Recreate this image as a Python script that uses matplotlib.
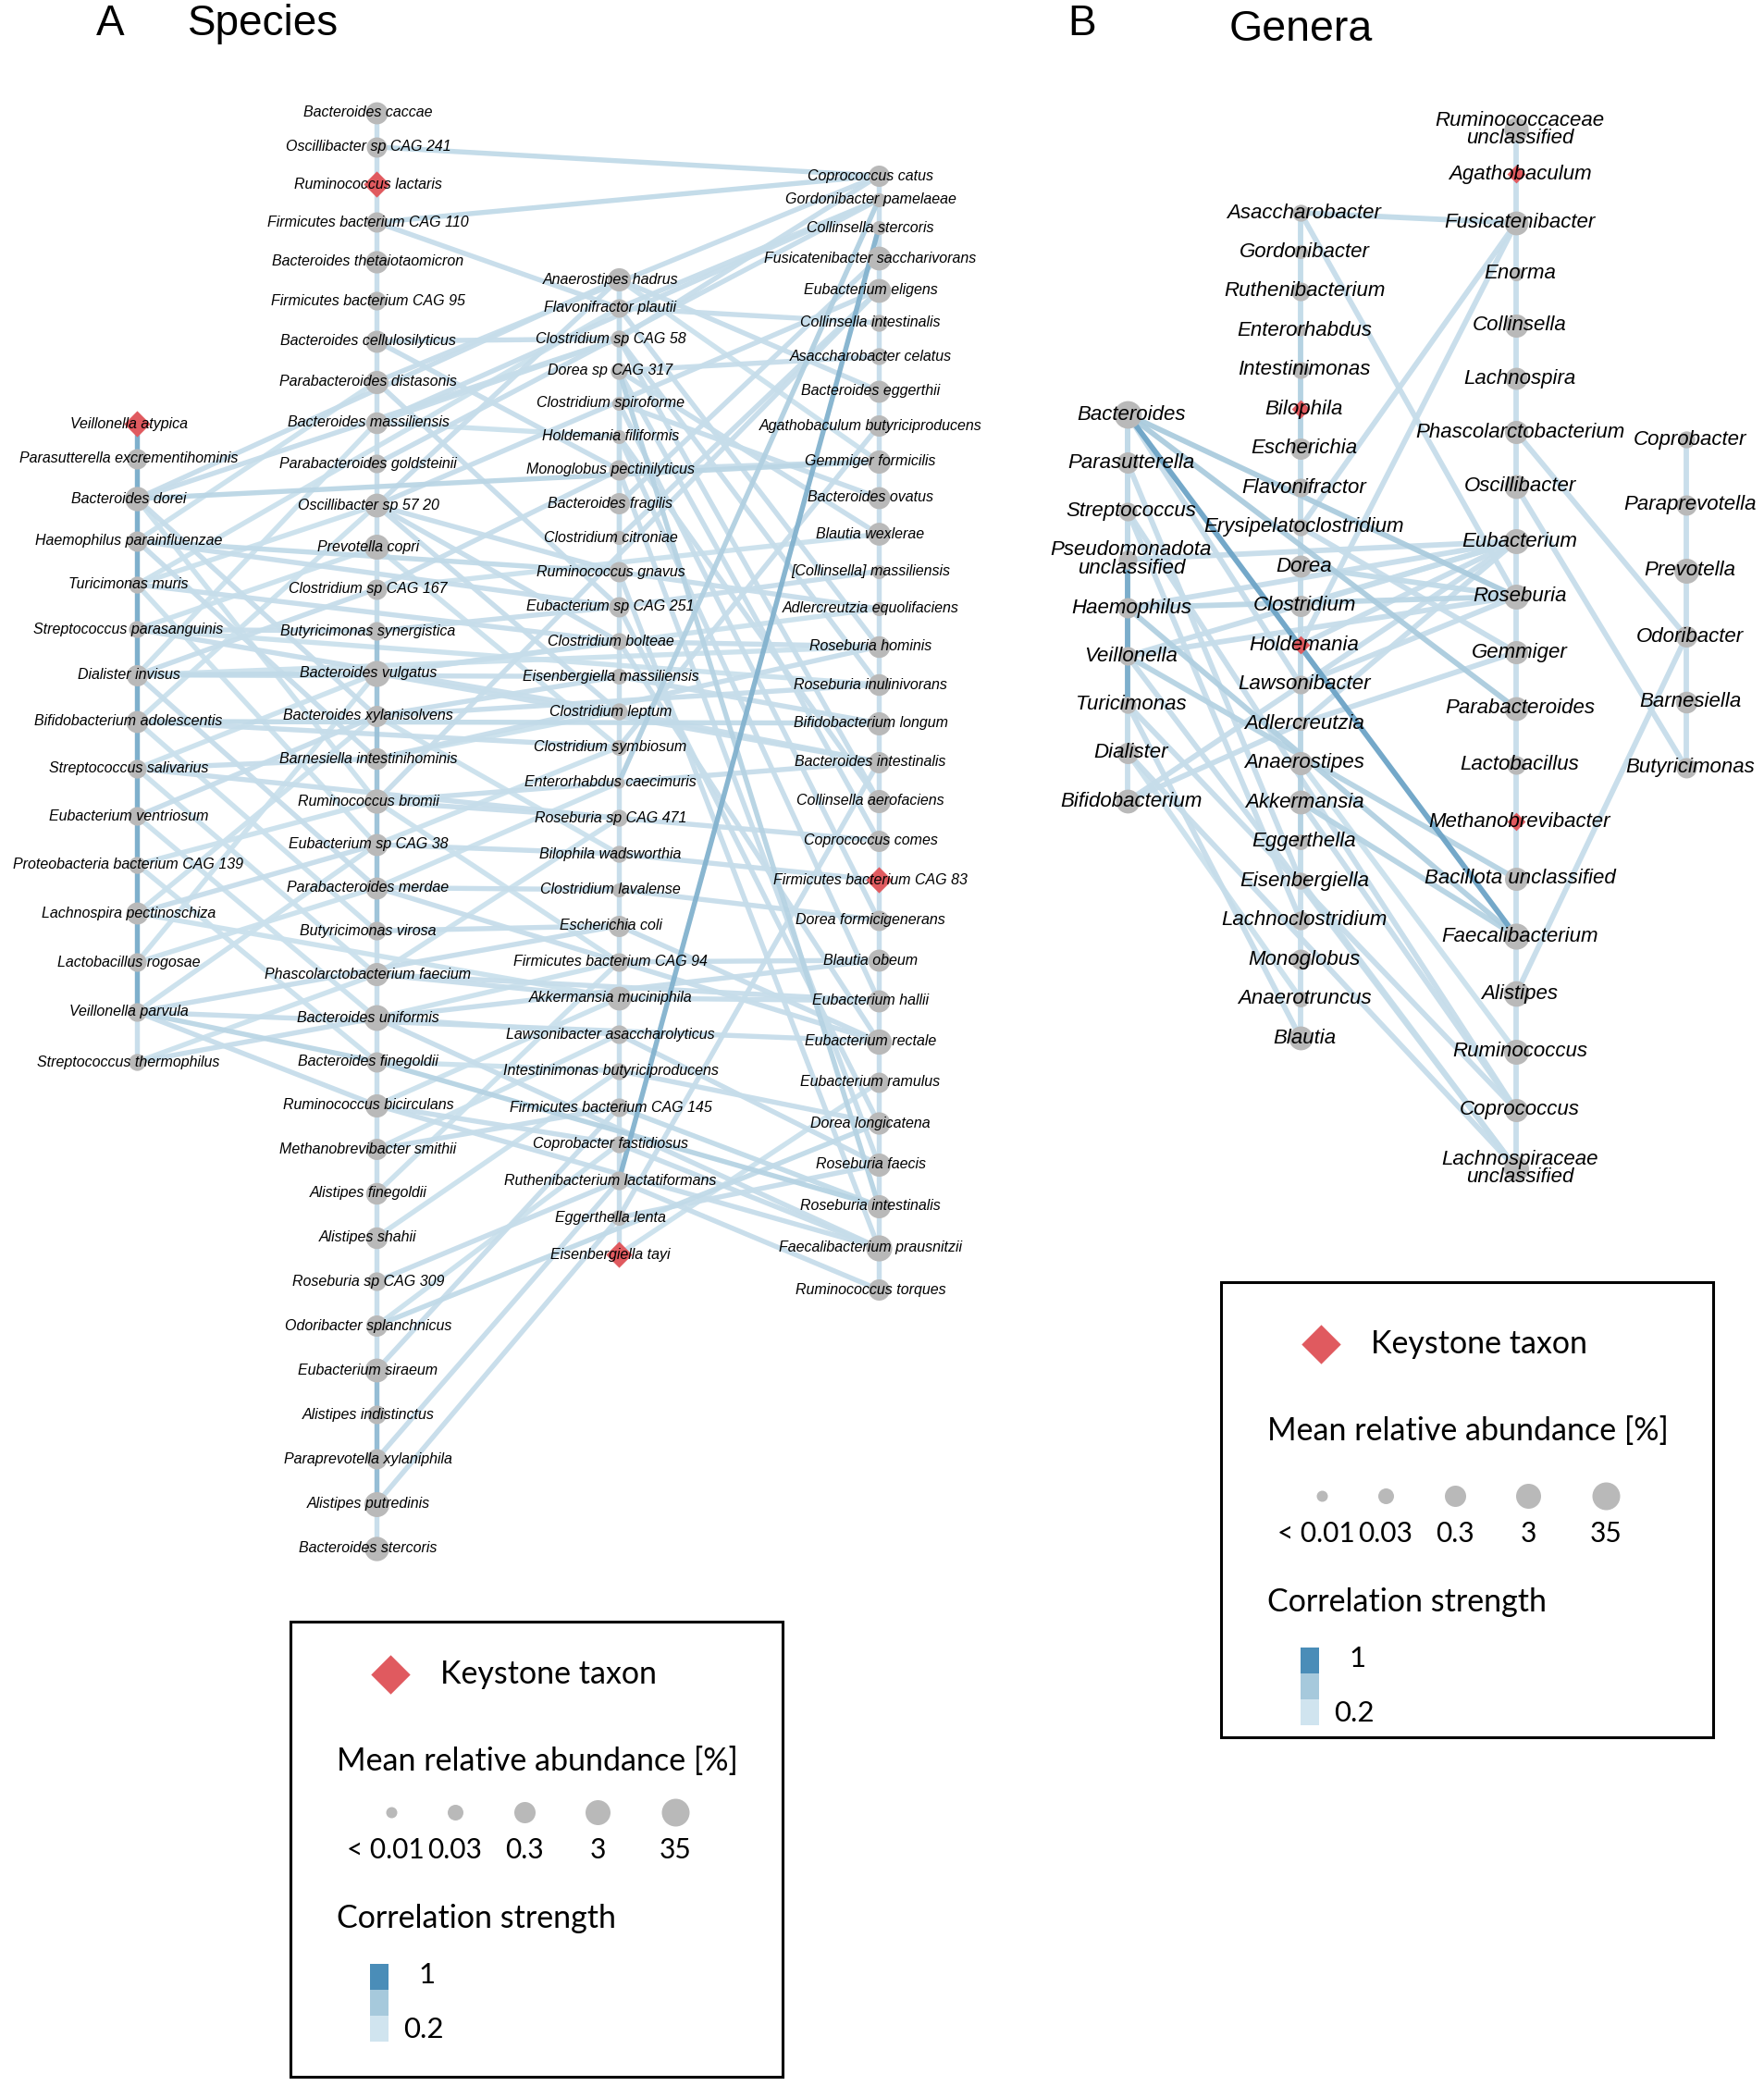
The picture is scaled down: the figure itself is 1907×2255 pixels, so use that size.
import numpy as np
import matplotlib
matplotlib.use("Agg")
import matplotlib.pyplot as plt
from matplotlib.colors import LinearSegmentedColormap
from matplotlib.patches import Rectangle

plt.rcParams['font.family'] = ['Liberation Sans', 'DejaVu Sans']

# ---------------- data: species network ----------------
sp_col1 = ["Veillonella atypica", "Parasutterella excrementihominis", "Bacteroides dorei",
           "Haemophilus parainfluenzae", "Turicimonas muris", "Streptococcus parasanguinis",
           "Dialister invisus", "Bifidobacterium adolescentis", "Streptococcus salivarius",
           "Eubacterium ventriosum", "Proteobacteria bacterium CAG 139", "Lachnospira pectinoschiza",
           "Lactobacillus rogosae", "Veillonella parvula", "Streptococcus thermophilus"]
sp_col1_abund = [0.05, 0.2, 2, 0.2, 0.05, 0.05, 0.3, 0.5, 0.1, 0.1, 0.05, 0.5, 0.1, 0.1, 0.05]

sp_col2 = ["Bacteroides caccae", "Oscillibacter sp CAG 241", "Ruminococcus lactaris",
           "Firmicutes bacterium CAG 110", "Bacteroides thetaiotaomicron", "Firmicutes bacterium CAG 95",
           "Bacteroides cellulosilyticus", "Parabacteroides distasonis", "Bacteroides massiliensis",
           "Parabacteroides goldsteinii", "Oscillibacter sp 57 20", "Prevotella copri",
           "Clostridium sp CAG 167", "Butyricimonas synergistica", "Bacteroides vulgatus",
           "Bacteroides xylanisolvens", "Barnesiella intestinihominis", "Ruminococcus bromii",
           "Eubacterium sp CAG 38", "Parabacteroides merdae", "Butyricimonas virosa",
           "Phascolarctobacterium faecium", "Bacteroides uniformis", "Bacteroides finegoldii",
           "Ruminococcus bicirculans", "Methanobrevibacter smithii", "Alistipes finegoldii",
           "Alistipes shahii", "Roseburia sp CAG 309", "Odoribacter splanchnicus",
           "Eubacterium siraeum", "Alistipes indistinctus", "Paraprevotella xylaniphila",
           "Alistipes putredinis", "Bacteroides stercoris"]
sp_col2_abund = [0.5, 0.2, 0.3, 0.2, 0.6, 0.1, 0.5, 1.0, 0.4, 0.1, 1.5, 3, 0.2, 0.1, 8,
                 0.3, 0.4, 2, 0.5, 0.5, 0.1, 1, 6, 0.2, 1, 0.3, 0.4, 0.4, 0.1, 0.3,
                 1.5, 0.1, 0.2, 3, 2]

sp_col3 = ["Anaerostipes hadrus", "Flavonifractor plautii", "Clostridium sp CAG 58",
           "Dorea sp CAG 317", "Clostridium spiroforme", "Holdemania filiformis",
           "Monoglobus pectinilyticus", "Bacteroides fragilis", "Clostridium citroniae",
           "Ruminococcus gnavus", "Eubacterium sp CAG 251", "Clostridium bolteae",
           "Eisenbergiella massiliensis", "Clostridium leptum", "Clostridium symbiosum",
           "Enterorhabdus caecimuris", "Roseburia sp CAG 471", "Bilophila wadsworthia",
           "Clostridium lavalense", "Escherichia coli", "Firmicutes bacterium CAG 94",
           "Akkermansia muciniphila", "Lawsonibacter asaccharolyticus",
           "Intestinimonas butyriciproducens", "Firmicutes bacterium CAG 145",
           "Coprobacter fastidiosus", "Ruthenibacterium lactatiformans", "Eggerthella lenta",
           "Eisenbergiella tayi"]
sp_col3_abund = [1, 0.1, 0.05, 0.05, 0.02, 0.02, 0.2, 0.3, 0.02, 0.2, 0.2, 0.05, 0.03, 0.05,
                 0.03, 0.01, 0.05, 0.05, 0.02, 0.3, 0.1, 1.5, 0.1, 0.05, 0.1, 0.05, 0.1,
                 0.03, 0.02]

sp_col4 = ["Coprococcus catus", "Gordonibacter pamelaeae", "Collinsella stercoris",
           "Fusicatenibacter saccharivorans", "Eubacterium eligens", "Collinsella intestinalis",
           "Asaccharobacter celatus", "Bacteroides eggerthii", "Agathobaculum butyriciproducens",
           "Gemmiger formicilis", "Bacteroides ovatus", "Blautia wexlerae",
           "[Collinsella] massiliensis", "Adlercreutzia equolifaciens", "Roseburia hominis",
           "Roseburia inulinivorans", "Bifidobacterium longum", "Bacteroides intestinalis",
           "Collinsella aerofaciens", "Coprococcus comes", "Firmicutes bacterium CAG 83",
           "Dorea formicigenerans", "Blautia obeum", "Eubacterium hallii", "Eubacterium rectale",
           "Eubacterium ramulus", "Dorea longicatena", "Roseburia faecis",
           "Roseburia intestinalis", "Faecalibacterium prausnitzii", "Ruminococcus torques"]
sp_col4_abund = [0.3, 0.02, 0.02, 1.5, 1.5, 0.05, 0.05, 0.5, 0.3, 1, 0.5, 0.8, 0.02, 0.02,
                 0.4, 0.4, 1, 0.3, 1, 0.3, 0.3, 0.2, 0.5, 0.5, 4, 0.2, 0.6, 1, 1, 8, 0.3]

sp_keystone = ["Veillonella atypica", "Ruminococcus lactaris", "Eisenbergiella tayi",
               "Firmicutes bacterium CAG 83"]

# strength of links between neighbours inside each column
sp_col1_chain = [0.8, 0.8, 0.8, 0.8, 0.8, 0.8, 0.8, 0.8, 0.8, 0.8, 0.8, 0.8, 0.8, 0.3]
sp_col2_chain = [0.3, 0.3, 0.3, 0.3, 0.3, 0.3, 0.3, 0.3, 0.3, 0.3, 0.3, 0.3, 0.35,
                 0.65, 0.65, 0.65, 0.65, 0.65, 0.65, 0.65, 0.3, 0.3, 0.3, 0.3, 0.3,
                 0.3, 0.3, 0.3, 0.3, 0.3, 0.7, 0.7, 0.7, 0.3]
sp_col3_chain = [0.3, 0.3, 0.3, 0.3, 0.3, 0.3, 0.3, 0.3, 0.3, 0.3, 0.3, 0.3, 0.3, 0.3,
                 0.3, 0.3, 0.3, 0.3, 0.3, 0.3, 0.3, 0.3, 0.3, 0.3, 0.3, 0.3, 0.3, 0.3]
sp_col4_chain = [0.3, 0.3, 0.3, 0.3, 0.3, 0.3, 0.3, 0.3, 0.3, 0.3, 0.3, 0.3, 0.3, 0.3,
                 0.3, 0.3, 0.3, 0.3, 0.3, 0.3, 0.3, 0.3, 0.3, 0.3, 0.3, 0.3, 0.3, 0.3,
                 0.3, 0.3]

sp_edges = [
    ("Bacteroides dorei", "Gemmiger formicilis", 0.4),
    ("Bacteroides dorei", "Clostridium sp CAG 58", 0.3),
    ("Bacteroides dorei", "Bacteroides xylanisolvens", 0.3),
    ("Bacteroides dorei", "Ruminococcus bromii", 0.25),
    ("Bacteroides dorei", "Anaerostipes hadrus", 0.3),
    ("Haemophilus parainfluenzae", "Ruminococcus gnavus", 0.35),
    ("Haemophilus parainfluenzae", "Eubacterium sp CAG 251", 0.3),
    ("Haemophilus parainfluenzae", "Parabacteroides distasonis", 0.25),
    ("Haemophilus parainfluenzae", "Barnesiella intestinihominis", 0.3),
    ("Turicimonas muris", "Oscillibacter sp 57 20", 0.25),
    ("Turicimonas muris", "Clostridium bolteae", 0.3),
    ("Turicimonas muris", "Eubacterium sp CAG 38", 0.25),
    ("Turicimonas muris", "Flavonifractor plautii", 0.25),
    ("Streptococcus parasanguinis", "Butyricimonas synergistica", 0.3),
    ("Streptococcus parasanguinis", "Clostridium leptum", 0.3),
    ("Streptococcus parasanguinis", "Prevotella copri", 0.25),
    ("Streptococcus parasanguinis", "Roseburia inulinivorans", 0.25),
    ("Dialister invisus", "Bacteroides vulgatus", 0.35),
    ("Dialister invisus", "Eisenbergiella massiliensis", 0.3),
    ("Dialister invisus", "Clostridium sp CAG 167", 0.3),
    ("Dialister invisus", "Parabacteroides merdae", 0.3),
    ("Dialister invisus", "Roseburia hominis", 0.25),
    ("Dialister invisus", "Bacteroides massiliensis", 0.25),
    ("Bifidobacterium adolescentis", "Bifidobacterium longum", 0.35),
    ("Bifidobacterium adolescentis", "Clostridium symbiosum", 0.3),
    ("Bifidobacterium adolescentis", "Butyricimonas virosa", 0.25),
    ("Bifidobacterium adolescentis", "Oscillibacter sp 57 20", 0.25),
    ("Streptococcus salivarius", "Barnesiella intestinihominis", 0.3),
    ("Streptococcus salivarius", "Roseburia sp CAG 471", 0.3),
    ("Streptococcus salivarius", "Phascolarctobacterium faecium", 0.25),
    ("Streptococcus salivarius", "Bacteroides vulgatus", 0.25),
    ("Eubacterium ventriosum", "Bacteroides xylanisolvens", 0.3),
    ("Eubacterium ventriosum", "Bacteroides uniformis", 0.25),
    ("Proteobacteria bacterium CAG 139", "Ruminococcus bromii", 0.25),
    ("Proteobacteria bacterium CAG 139", "Bacteroides finegoldii", 0.25),
    ("Lachnospira pectinoschiza", "Eubacterium sp CAG 38", 0.3),
    ("Lachnospira pectinoschiza", "Akkermansia muciniphila", 0.25),
    ("Lachnospira pectinoschiza", "Bacteroides xylanisolvens", 0.25),
    ("Lactobacillus rogosae", "Parabacteroides merdae", 0.25),
    ("Lactobacillus rogosae", "Bacteroides vulgatus", 0.25),
    ("Veillonella parvula", "Bacteroides finegoldii", 0.4),
    ("Veillonella parvula", "Ruminococcus bicirculans", 0.3),
    ("Veillonella parvula", "Escherichia coli", 0.3),
    ("Veillonella parvula", "Eubacterium rectale", 0.3),
    ("Veillonella parvula", "Eubacterium sp CAG 38", 0.25),
    ("Streptococcus thermophilus", "Bacteroides uniformis", 0.3),
    ("Streptococcus thermophilus", "Phascolarctobacterium faecium", 0.25),
    ("Oscillibacter sp CAG 241", "Coprococcus catus", 0.35),
    ("Firmicutes bacterium CAG 110", "Coprococcus catus", 0.35),
    ("Firmicutes bacterium CAG 110", "Flavonifractor plautii", 0.3),
    ("Bacteroides cellulosilyticus", "Clostridium sp CAG 58", 0.3),
    ("Bacteroides cellulosilyticus", "Monoglobus pectinilyticus", 0.3),
    ("Parabacteroides distasonis", "Eubacterium sp CAG 251", 0.3),
    ("Parabacteroides distasonis", "Coprococcus catus", 0.3),
    ("Bacteroides massiliensis", "Holdemania filiformis", 0.25),
    ("Bacteroides massiliensis", "Gordonibacter pamelaeae", 0.3),
    ("Parabacteroides goldsteinii", "Gordonibacter pamelaeae", 0.3),
    ("Oscillibacter sp 57 20", "Ruminococcus gnavus", 0.3),
    ("Oscillibacter sp 57 20", "Clostridium leptum", 0.3),
    ("Oscillibacter sp 57 20", "Eubacterium eligens", 0.3),
    ("Oscillibacter sp 57 20", "Clostridium bolteae", 0.3),
    ("Oscillibacter sp 57 20", "Anaerostipes hadrus", 0.3),
    ("Prevotella copri", "Clostridium symbiosum", 0.25),
    ("Clostridium sp CAG 167", "Monoglobus pectinilyticus", 0.3),
    ("Clostridium sp CAG 167", "Blautia wexlerae", 0.25),
    ("Butyricimonas synergistica", "Eubacterium sp CAG 251", 0.3),
    ("Bacteroides vulgatus", "Clostridium bolteae", 0.3),
    ("Bacteroides vulgatus", "Adlercreutzia equolifaciens", 0.25),
    ("Bacteroides vulgatus", "Bacteroides intestinalis", 0.3),
    ("Bacteroides xylanisolvens", "Eisenbergiella massiliensis", 0.3),
    ("Bacteroides xylanisolvens", "Bilophila wadsworthia", 0.25),
    ("Bacteroides xylanisolvens", "Roseburia inulinivorans", 0.3),
    ("Barnesiella intestinihominis", "Roseburia hominis", 0.3),
    ("Barnesiella intestinihominis", "Clostridium leptum", 0.25),
    ("Ruminococcus bromii", "Roseburia sp CAG 471", 0.3),
    ("Ruminococcus bromii", "Bacteroides intestinalis", 0.3),
    ("Ruminococcus bromii", "Firmicutes bacterium CAG 94", 0.25),
    ("Ruminococcus bromii", "Eubacterium eligens", 0.3),
    ("Eubacterium sp CAG 38", "Bilophila wadsworthia", 0.3),
    ("Eubacterium sp CAG 38", "Clostridium symbiosum", 0.25),
    ("Parabacteroides merdae", "Clostridium lavalense", 0.3),
    ("Parabacteroides merdae", "Enterorhabdus caecimuris", 0.25),
    ("Parabacteroides merdae", "Eubacterium rectale", 0.3),
    ("Butyricimonas virosa", "Escherichia coli", 0.3),
    ("Phascolarctobacterium faecium", "Akkermansia muciniphila", 0.3),
    ("Phascolarctobacterium faecium", "Eubacterium hallii", 0.3),
    ("Phascolarctobacterium faecium", "Roseburia sp CAG 471", 0.25),
    ("Bacteroides uniformis", "Lawsonibacter asaccharolyticus", 0.3),
    ("Bacteroides uniformis", "Blautia obeum", 0.3),
    ("Bacteroides uniformis", "Firmicutes bacterium CAG 94", 0.25),
    ("Bacteroides uniformis", "Faecalibacterium prausnitzii", 0.3),
    ("Bacteroides finegoldii", "Roseburia intestinalis", 0.45),
    ("Bacteroides finegoldii", "Intestinimonas butyriciproducens", 0.25),
    ("Ruminococcus bicirculans", "Coprobacter fastidiosus", 0.3),
    ("Ruminococcus bicirculans", "Faecalibacterium prausnitzii", 0.3),
    ("Ruminococcus bicirculans", "Akkermansia muciniphila", 0.25),
    ("Methanobrevibacter smithii", "Firmicutes bacterium CAG 145", 0.3),
    ("Methanobrevibacter smithii", "Lawsonibacter asaccharolyticus", 0.25),
    ("Alistipes finegoldii", "Firmicutes bacterium CAG 94", 0.25),
    ("Alistipes shahii", "Intestinimonas butyriciproducens", 0.25),
    ("Roseburia sp CAG 309", "Ruthenibacterium lactatiformans", 0.3),
    ("Odoribacter splanchnicus", "Dorea longicatena", 0.35),
    ("Odoribacter splanchnicus", "Coprobacter fastidiosus", 0.25),
    ("Eubacterium siraeum", "Firmicutes bacterium CAG 145", 0.3),
    ("Paraprevotella xylaniphila", "Ruthenibacterium lactatiformans", 0.3),
    ("Alistipes putredinis", "Eggerthella lenta", 0.3),
    ("Anaerostipes hadrus", "Bacteroides eggerthii", 0.3),
    ("Anaerostipes hadrus", "Gemmiger formicilis", 0.25),
    ("Anaerostipes hadrus", "Clostridium citroniae", 0.25),
    ("Flavonifractor plautii", "Collinsella intestinalis", 0.3),
    ("Flavonifractor plautii", "Gordonibacter pamelaeae", 0.3),
    ("Flavonifractor plautii", "Roseburia hominis", 0.3),
    ("Clostridium sp CAG 58", "Coprococcus catus", 0.3),
    ("Clostridium sp CAG 58", "Roseburia inulinivorans", 0.3),
    ("Clostridium sp CAG 58", "Bacteroides massiliensis", 0.3),
    ("Dorea sp CAG 317", "Asaccharobacter celatus", 0.3),
    ("Dorea sp CAG 317", "Blautia wexlerae", 0.3),
    ("Dorea sp CAG 317", "Roseburia intestinalis", 0.45),
    ("Clostridium spiroforme", "Bacteroides ovatus", 0.3),
    ("Holdemania filiformis", "Collinsella aerofaciens", 0.3),
    ("Monoglobus pectinilyticus", "Gemmiger formicilis", 0.3),
    ("Bacteroides fragilis", "Fusicatenibacter saccharivorans", 0.3),
    ("Clostridium citroniae", "Eubacterium eligens", 0.3),
    ("Ruminococcus gnavus", "Adlercreutzia equolifaciens", 0.3),
    ("Eubacterium sp CAG 251", "[Collinsella] massiliensis", 0.3),
    ("Clostridium bolteae", "Roseburia hominis", 0.3),
    ("Eisenbergiella massiliensis", "Bifidobacterium longum", 0.3),
    ("Clostridium leptum", "Bacteroides intestinalis", 0.3),
    ("Clostridium symbiosum", "Agathobaculum butyriciproducens", 0.3),
    ("Roseburia sp CAG 471", "Coprococcus comes", 0.3),
    ("Bilophila wadsworthia", "Firmicutes bacterium CAG 83", 0.3),
    ("Clostridium lavalense", "Dorea formicigenerans", 0.3),
    ("Escherichia coli", "Eubacterium rectale", 0.3),
    ("Firmicutes bacterium CAG 94", "Blautia obeum", 0.3),
    ("Akkermansia muciniphila", "Eubacterium hallii", 0.3),
    ("Lawsonibacter asaccharolyticus", "Roseburia faecis", 0.3),
    ("Intestinimonas butyriciproducens", "Dorea longicatena", 0.3),
    ("Firmicutes bacterium CAG 145", "Roseburia intestinalis", 0.35),
    ("Coprobacter fastidiosus", "Faecalibacterium prausnitzii", 0.3),
    ("Ruthenibacterium lactatiformans", "Ruminococcus torques", 0.3),
    ("Eggerthella lenta", "Roseburia faecis", 0.3),
    ("Eisenbergiella tayi", "Eubacterium ramulus", 0.25),
    ("Eubacterium rectale", "Clostridium bolteae", 0.3),
    ("Faecalibacterium prausnitzii", "Ruminococcus gnavus", 0.3),
    ("Bacteroides intestinalis", "Eggerthella lenta", 0.3),
    ("Dorea formicigenerans", "Clostridium spiroforme", 0.3),
    ("Eubacterium hallii", "Holdemania filiformis", 0.3),
    ("Roseburia faecis", "Monoglobus pectinilyticus", 0.3),
    ("Collinsella aerofaciens", "Clostridium sp CAG 58", 0.3),
    ("Coprococcus comes", "Dorea sp CAG 317", 0.3),
    ("Dorea longicatena", "Eubacterium sp CAG 251", 0.3),
    ("Gordonibacter pamelaeae", "Enterorhabdus caecimuris", 0.5),
    ("Collinsella stercoris", "Ruthenibacterium lactatiformans", 0.75),
]

# ---------------- data: genera network ----------------
gn_col1 = ["Bacteroides", "Parasutterella", "Streptococcus", "Pseudomonadota\nunclassified",
           "Haemophilus", "Veillonella", "Turicimonas", "Dialister", "Bifidobacterium"]
gn_col1_abund = [30, 0.3, 0.1, 0.1, 0.2, 0.1, 0.05, 0.3, 1.5]

gn_col2 = ["Asaccharobacter", "Gordonibacter", "Ruthenibacterium", "Enterorhabdus",
           "Intestinimonas", "Bilophila", "Escherichia", "Flavonifractor",
           "Erysipelatoclostridium", "Dorea", "Clostridium", "Holdemania", "Lawsonibacter",
           "Adlercreutzia", "Anaerostipes", "Akkermansia", "Eggerthella", "Eisenbergiella",
           "Lachnoclostridium", "Monoglobus", "Anaerotruncus", "Blautia"]
gn_col2_abund = [0.05, 0.02, 0.1, 0.01, 0.05, 0.05, 0.3, 0.1, 0.05, 0.5, 0.3, 0.02, 0.1,
                 0.02, 1, 1.5, 0.03, 0.05, 0.1, 0.2, 0.03, 1.5]

gn_col3 = ["Ruminococcaceae\nunclassified", "Agathobaculum", "Fusicatenibacter", "Enorma",
           "Collinsella", "Lachnospira", "Phascolarctobacterium", "Oscillibacter", "Eubacterium",
           "Roseburia", "Gemmiger", "Parabacteroides", "Lactobacillus", "Methanobrevibacter",
           "Bacillota unclassified", "Faecalibacterium", "Alistipes", "Ruminococcus",
           "Coprococcus", "Lachnospiraceae\nunclassified"]
gn_col3_abund = [2, 0.3, 1.5, 0.02, 1, 0.5, 1, 1.5, 3, 3, 1, 1.5, 0.1, 0.3, 1, 8, 5, 3, 1, 3]

gn_col4 = ["Coprobacter", "Paraprevotella", "Prevotella", "Odoribacter", "Barnesiella",
           "Butyricimonas"]
gn_col4_abund = [0.05, 0.2, 3, 0.3, 0.4, 0.2]

gn_keystone = ["Bilophila", "Holdemania", "Agathobaculum", "Methanobrevibacter"]

gn_col1_chain = [0.35, 0.35, 0.35, 0.8, 0.8, 0.8, 0.35, 0.3]
gn_col2_chain = [0.35, 0.35, 0.35, 0.5, 0.5, 0.5, 0.35, 0.35, 0.35, 0.35, 0.35, 0.4,
                 0.45, 0.45, 0.5, 0.5, 0.35, 0.3, 0.3, 0.3, 0.3]
gn_col3_chain = [0.3, 0.3, 0.3, 0.3, 0.3, 0.3, 0.3, 0.3, 0.3, 0.3, 0.3, 0.3, 0.3, 0.3,
                 0.3, 0.3, 0.3, 0.3, 0.3]
gn_col4_chain = [0.3, 0.3, 0.3, 0.3, 0.3]

gn_edges = [
    ("Asaccharobacter", "Fusicatenibacter", 0.35),
    ("Asaccharobacter", "Roseburia", 0.3),
    ("Fusicatenibacter", "Erysipelatoclostridium", 0.3),
    ("Fusicatenibacter", "Holdemania", 0.3),
    ("Bacteroides", "Roseburia", 0.55),
    ("Bacteroides", "Parabacteroides", 0.55),
    ("Bacteroides", "Faecalibacterium", 0.85),
    ("Bacteroides", "Veillonella", 0.3),
    ("Bacteroides", "Lawsonibacter", 0.3),
    ("Parasutterella", "Eisenbergiella", 0.3),
    ("Streptococcus", "Coprococcus", 0.3),
    ("Streptococcus", "Lachnoclostridium", 0.3),
    ("Pseudomonadota\nunclassified", "Eubacterium", 0.3),
    ("Haemophilus", "Roseburia", 0.4),
    ("Haemophilus", "Faecalibacterium", 0.5),
    ("Haemophilus", "Eubacterium", 0.3),
    ("Veillonella", "Eubacterium", 0.3),
    ("Veillonella", "Roseburia", 0.3),
    ("Veillonella", "Bacillota unclassified", 0.45),
    ("Veillonella", "Lachnospiraceae\nunclassified", 0.3),
    ("Turicimonas", "Blautia", 0.3),
    ("Turicimonas", "Coprococcus", 0.3),
    ("Dialister", "Lachnospiraceae\nunclassified", 0.3),
    ("Dialister", "Anaerotruncus", 0.25),
    ("Bifidobacterium", "Eubacterium", 0.3),
    ("Bifidobacterium", "Adlercreutzia", 0.3),
    ("Dorea", "Roseburia", 0.35),
    ("Erysipelatoclostridium", "Gemmiger", 0.3),
    ("Clostridium", "Eubacterium", 0.3),
    ("Holdemania", "Eubacterium", 0.3),
    ("Lawsonibacter", "Roseburia", 0.3),
    ("Adlercreutzia", "Gemmiger", 0.3),
    ("Adlercreutzia", "Eubacterium", 0.3),
    ("Akkermansia", "Faecalibacterium", 0.45),
    ("Akkermansia", "Coprococcus", 0.3),
    ("Eisenbergiella", "Lachnospiraceae\nunclassified", 0.3),
    ("Anaerostipes", "Ruminococcus", 0.25),
    ("Phascolarctobacterium", "Odoribacter", 0.3),
    ("Oscillibacter", "Butyricimonas", 0.3),
    ("Odoribacter", "Alistipes", 0.3),
]

legend_abund = [0.01, 0.03, 0.3, 3, 35]
legend_abund_labels = ["< 0.01", "0.03", "0.3", "3", "35"]

# ---------------- styling ----------------
NODE_GREY = "#b9b9b9"
KEY_RED = "#e05a5f"
edge_cmap = LinearSegmentedColormap.from_list(
    "corr", [(0.0, "#d0e4ef"), (0.5, "#a6c9dc"), (1.0, "#4a8db8")])
PX = 0.72  # points per pixel at dpi 100


def node_diam(a):
    return np.interp(np.log10(a), np.log10(legend_abund), [12, 17, 23, 27, 30])


def col_y(n, top, bottom, p):
    return top + (bottom - top) * (np.arange(n) / (n - 1)) ** p


def draw_network(ax, cols, chains, edges, keystone, fs, key_px, lw, dx_lab):
    pos, size = {}, {}
    for names, ab, x, top, bottom, p in cols:
        ys = col_y(len(names), top, bottom, p)
        for nm, a, y in zip(names, ab, ys):
            pos[nm] = (x, y)
            size[nm] = a
    all_edges = list(edges)
    for (names, *_), ch in zip(cols, chains):
        for i, s in enumerate(ch):
            all_edges.append((names[i], names[i + 1], s))
    all_edges.sort(key=lambda e: e[2])
    for a, b, s in all_edges:
        (x0, y0), (x1, y1) = pos[a], pos[b]
        ax.plot([x0, x1], [y0, y1], color=edge_cmap((s - 0.2) / 0.8), lw=lw,
                solid_capstyle="butt", alpha=0.95, zorder=1)
    for nm, (x, y) in pos.items():
        if nm in keystone:
            ax.scatter([x], [y], s=(key_px * PX) ** 2, marker="D", color=KEY_RED,
                       linewidths=0, zorder=3)
        else:
            ax.scatter([x], [y], s=(node_diam(size[nm]) * PX) ** 2, color=NODE_GREY,
                       linewidths=0, zorder=2)
        ax.text(x + dx_lab, y, nm, ha="center", va="center", fontsize=fs, style="italic",
                linespacing=0.92, zorder=4)


def draw_legend(ax, x0, y0, d1, d2):
    # d1 / d2 shift the upper and lower legend rows down
    lf = ["Lato", "DejaVu Sans"]
    ax.add_patch(Rectangle((x0, y0), 532, 492, fill=False, lw=2.2, ec="black", zorder=5))
    ax.scatter([x0 + 108], [y0 + 57 + d1], s=(30 * PX) ** 2, marker="D", color=KEY_RED,
               linewidths=0, zorder=6)
    ax.text(x0 + 162, y0 + 57 + d1, "Keystone taxon", fontsize=24.5, family=lf, va="center")
    ax.text(x0 + 50, y0 + 151 + d1, "Mean relative abundance [%]", fontsize=24.5, family=lf,
            va="center")
    lx = [x0 + 109, x0 + 178, x0 + 253, x0 + 332, x0 + 416]
    for x, a, lab in zip(lx, legend_abund, legend_abund_labels):
        ax.scatter([x], [y0 + 206 + d2], s=(node_diam(a) * PX) ** 2, color=NODE_GREY,
                   linewidths=0, zorder=6)
        ax.text(x - (6 if lab.startswith("<") else 0), y0 + 247 + d2, lab, fontsize=21.5,
                family=lf, ha="center", va="center")
    ax.text(x0 + 50, y0 + 321 + d2, "Correlation strength", fontsize=24.5, family=lf,
            va="center")
    for i, s in enumerate([1.0, 0.6, 0.2]):
        ax.add_patch(Rectangle((x0 + 86, y0 + 370 + d2 + i * 28), 20, 28,
                               color=edge_cmap((s - 0.2) / 0.8), lw=0, zorder=6))
    ax.text(x0 + 138, y0 + 382 + d2, "1", fontsize=22.5, family=lf, va="center")
    ax.text(x0 + 122, y0 + 441 + d2, "0.2", fontsize=22.5, family=lf, va="center")


fig = plt.figure(figsize=(19.07, 22.55), dpi=100)
ax = fig.add_axes([0, 0, 1, 1])
ax.set_xlim(0, 1907)
ax.set_ylim(2255, 0)
ax.axis("off")

sp_cols = [(sp_col1, sp_col1_abund, 148, 458, 1148, 1.1),
           (sp_col2, sp_col2_abund, 407, 122, 1674, 1.06),
           (sp_col3, sp_col3_abund, 669, 302, 1356, 1.06),
           (sp_col4, sp_col4_abund, 950, 190, 1394, 1.13)]
draw_network(ax, sp_cols, [sp_col1_chain, sp_col2_chain, sp_col3_chain, sp_col4_chain],
             sp_edges, sp_keystone, 11.5, 20, 3.9, -9)

gn_cols = [(gn_col1, gn_col1_abund, 1219, 448, 866, 1.0),
           (gn_col2, gn_col2_abund, 1406, 230, 1122, 1.0),
           (gn_col3, gn_col3_abund, 1639, 140, 1263, 1.07),
           (gn_col4, gn_col4_abund, 1823, 475, 830, 1.0)]
draw_network(ax, gn_cols, [gn_col1_chain, gn_col2_chain, gn_col3_chain, gn_col4_chain],
             gn_edges, gn_keystone, 16, 14, 4.2, 4)

ax.text(119, 26, "A", fontsize=33, ha="center", va="center")
ax.text(285, 26, "Species", fontsize=33, ha="center", va="center")
ax.text(1170, 26, "B", fontsize=33, ha="center", va="center")
ax.text(1406, 32, "Genera", fontsize=33.5, ha="center", va="center")

draw_legend(ax, 314, 1753, 0, 0)
draw_legend(ax, 1320, 1386, 10, 25)

fig.savefig("out.png", dpi=100, facecolor="white")
